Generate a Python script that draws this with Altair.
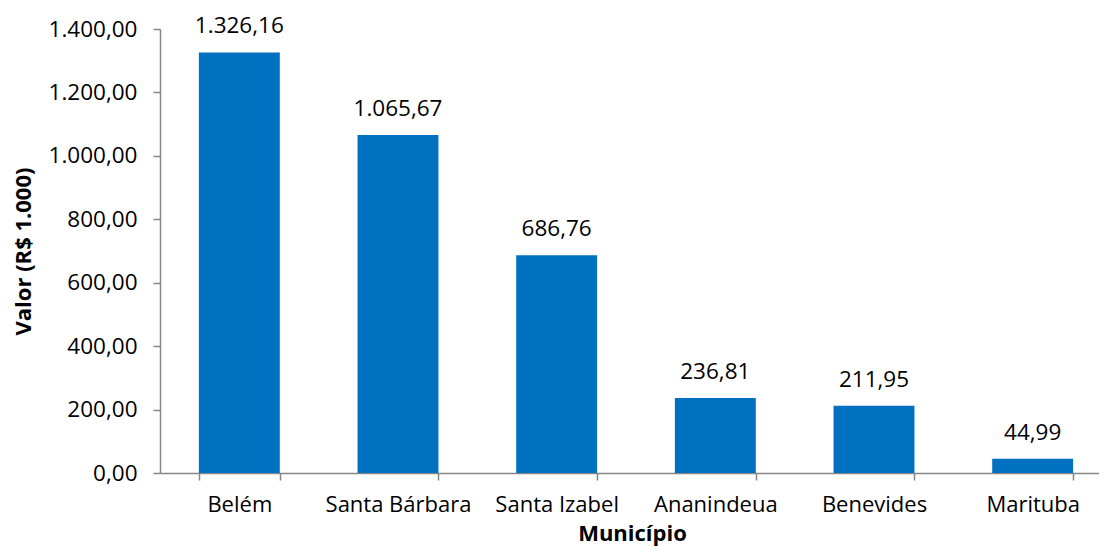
import altair as alt
import pandas as pd

municipios = ["Belém", "Santa Bárbara", "Santa Izabel", "Ananindeua", "Benevides", "Marituba"]
valores = [1326.16, 1065.67, 686.76, 236.81, 211.95, 44.99]
y_ticks = [0, 200, 400, 600, 800, 1000, 1200, 1400]

df = pd.DataFrame({"Município": municipios, "Valor": valores})

FONT = "Open Sans"
AXIS_GRAY = "#868686"
BAR_BLUE = "#0070C0"

x = alt.X(
    "Município:N",
    sort=municipios,
    scale=alt.Scale(paddingInner=0.49, paddingOuter=0.245, range=[0, 952]),
    axis=alt.Axis(
        title="Município",
        titleFont=FONT, titleFontSize=22, titleFontWeight="bold", titleColor="#000000",
        titleX=472, titleY=60, titleBaseline="middle",
        labelFont=FONT, labelFontSize=22, labelColor="#000000", labelAngle=0,
        labelPadding=14, labelBaseline="top",
        tickBand="extent", tickSize=7, tickColor=AXIS_GRAY, tickWidth=1.5,
        domainColor=AXIS_GRAY, domainWidth=1.5, grid=False,
    ),
)

y = alt.Y(
    "Valor:Q",
    scale=alt.Scale(domain=[0, 1400], nice=False),
    axis=alt.Axis(
        title="Valor (R$ 1.000)",
        titleFont=FONT, titleFontSize=22, titleFontWeight="bold", titleColor="#000000",
        titleAngle=-90, titleX=-137, titleY=222, titleBaseline="middle", titleAlign="center",
        values=y_ticks, format=",.2f",
        labelFont=FONT, labelFontSize=22.5, labelColor="#000000", labelPadding=16,
        tickSize=7, tickColor=AXIS_GRAY, tickWidth=1.5,
        domainColor=AXIS_GRAY, domainWidth=1.5, grid=False,
    ),
)

bars = alt.Chart(df).mark_bar(color=BAR_BLUE).encode(x=x, y=y)

labels = alt.Chart(df).mark_text(
    font=FONT, fontSize=22.5, color="#000000", baseline="alphabetic", dy=-19
).encode(
    x=alt.X("Município:N", sort=municipios),
    y=alt.Y("Valor:Q"),
    text=alt.Text("Valor:Q", format=",.2f"),
)

chart = (
    alt.layer(bars, labels)
    .properties(
        width=939,
        height=444,
        autosize=alt.AutoSizeParams(type="none"),
        padding={"left": 152, "top": 21, "right": 0, "bottom": 77},
    )
    .configure(
        locale={"number": {"decimal": ",", "thousands": ".", "grouping": [3], "currency": ["R$ ", ""]}}
    )
    .configure_view(stroke=None)
)

chart.save("out.html", embed_options={"renderer": "svg", "actions": False})
